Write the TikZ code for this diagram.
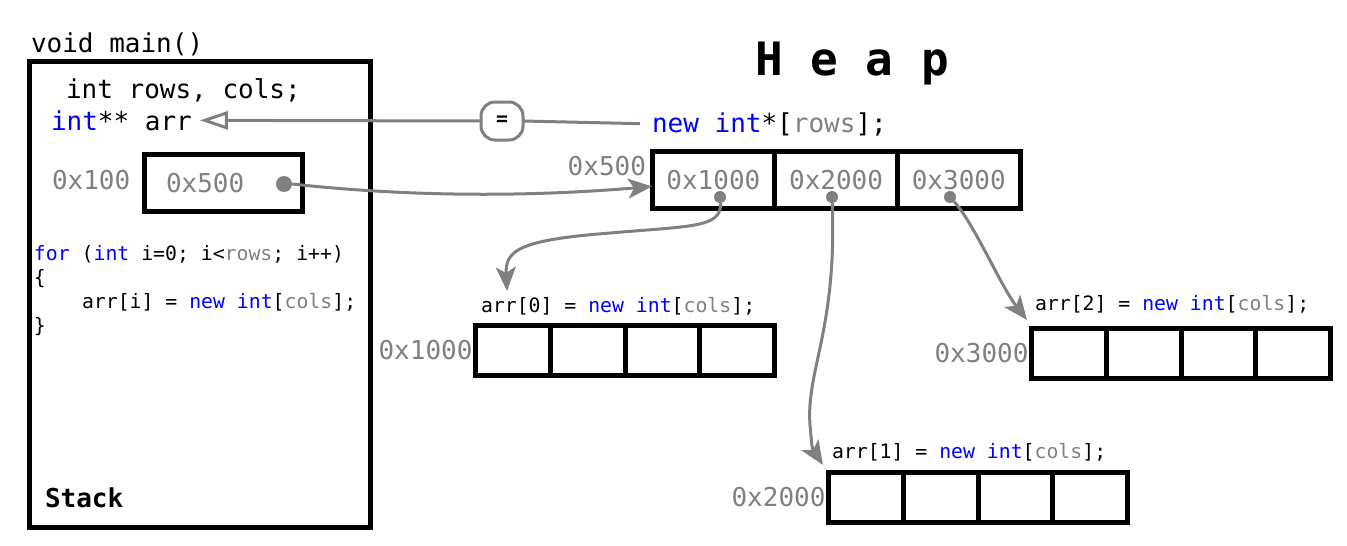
\documentclass[tikz,border=0pt]{standalone}
\usepackage{fontspec}
\setmonofont{DejaVu Sans Mono}
\usetikzlibrary{arrows.meta,positioning}
\definecolor{kwblue}{RGB}{0,0,255}
\definecolor{addrgray}{RGB}{128,128,128}
\newcommand{\kw}[1]{\textcolor{kwblue}{#1}}
\newcommand{\gv}[1]{\textcolor{addrgray}{#1}}

\begin{document}
\begin{tikzpicture}[x=1pt,y=-1pt,
    code/.style={font=\ttfamily\fontsize{26}{30}\selectfont,inner sep=0pt,outer sep=0pt},
    smallcode/.style={font=\ttfamily\fontsize{19.8}{24}\selectfont,inner sep=0pt,outer sep=0pt},
    addr/.style={code,text=addrgray},
    box/.style={draw,line width=5pt,inner sep=0pt,outer sep=0pt},
    cell/.style={box,minimum width=74.75pt,minimum height=50pt,anchor=west},
    hcell/.style={box,addr,minimum width=122.7pt,minimum height=57pt,anchor=west},
    dot/.style={circle,fill=addrgray,inner sep=0pt,minimum size=#1},
    dot/.default=12pt,
    link/.style={draw=addrgray,line width=3pt,-{Stealth[length=24pt,width=20pt,inset=6pt]}}]
            \useasboundingbox (0,0) rectangle (1347,546);
            \node[code,anchor=base west] (mainhead) at (31,52) {void main()};
            \draw[line width=5pt] (29.5,61.5) rectangle (370,527.5);
            \node[code,anchor=base west] (decl) at (66,98) {int rows, cols;};
            \node[code,anchor=base west] (arr) at (51,130) {\kw{int}** arr};
            \node[addr,anchor=base west] (stackaddr) at (52,189) {0x100};
            \node[box,minimum width=158pt,minimum height=56.5pt] (ptr) at (223,182.75) {};
            \node[addr,anchor=base west] (ptrval) at (166,192) {0x500};
            \node[dot=16pt] (ptrdot) at (284,184) {};
            \node[smallcode,anchor=base west] (loop1) at (34,260) {\kw{for} (\kw{int} i=0; i<\gv{rows}; i++)};
            \node[smallcode,anchor=base west] (loop2) at (34,284) {\{};
            \node[smallcode,anchor=base west] (loop3) at (82,308) {arr[i] = \kw{new} \kw{int}[\gv{cols}];};
            \node[smallcode,anchor=base west] (loop4) at (34,332) {\}};
            \node[code,font=\ttfamily\bfseries\fontsize{26}{30}\selectfont,anchor=base west] (stacklabel) at (45,507) {Stack};
            \node[inner sep=0pt,font=\ttfamily\bfseries\fontsize{46}{50}\selectfont,anchor=base west] (heap) at (755,75) {H e a p};
            \node[code,anchor=base west] (newrows) at (652,132) {\kw{new} \kw{int}*[\gv{rows}];};
            \node[smallcode,font=\ttfamily\bfseries\fontsize{19.8}{24}\selectfont,draw=addrgray,line width=3pt,rounded corners=14pt,minimum width=42pt,minimum height=38pt] (eq) at (502,121) {=};
            \draw[addrgray,line width=3pt,shorten <=12pt] (newrows.west) -- (eq.east);
            \draw[addrgray,line width=3pt,shorten >=8pt,-{Triangle[open,length=28pt,width=18pt]}] (eq.west) -- (arr.east);
            \node[hcell] (h0) at (652,180) {0x1000};
            \node[hcell] (h1) at (h0.east) {0x2000};
            \node[hcell] (h2) at (h1.east) {0x3000};
            \node[addr,anchor=base east] (heapaddr) at (646,175) {0x500};
            \draw[link] (ptrdot.east) .. controls (420,198) and (540,196) .. (h0.186);
            \node[dot] (d0) at (720,197) {};
            \node[dot] (d1) at (832,197) {};
            \node[dot] (d2) at (950,197) {};
            \foreach \r/\x/\y in {0/475.5/350.5,1/828.5/497.5,2/1031.5/353}{
                \node[cell] (r\r-1) at (\x,\y) {};
                \foreach \c [count=\p] in {2,3,4}
                    \node[cell] (r\r-\c) at (r\r-\p.east) {};
            }
            \node[smallcode,anchor=base west] (lab0) at (481,312) {arr[0] = \kw{new} \kw{int}[\gv{cols}];};
            \node[smallcode,anchor=base west] (lab1) at (832,458) {arr[1] = \kw{new} \kw{int}[\gv{cols}];};
            \node[smallcode,anchor=base west] (lab2) at (1035,310) {arr[2] = \kw{new} \kw{int}[\gv{cols}];};
            \node[addr,left=3pt of r0-1] (a0) {0x1000};
            \node[addr,left=3pt of r1-1] (a1) {0x2000};
            \node[addr,left=3pt of r2-1] (a2) {0x3000};
            \coordinate (t0) at (507,291);
            \coordinate (t1) at (823,465);
            \coordinate (t2) at (1027,320);
            \draw[link] (d0) .. controls (722,228) and (690,226) .. (610,233) .. controls (520,240) and (505,250) .. (t0);
            \draw[link] (d1) .. controls (837,330) and (806,370) .. (810,425) .. controls (812,448) .. (t1);
            \draw[link] (d2) .. controls (975,225) and (1000,285) .. (t2);
        \end{tikzpicture}
\end{document}
